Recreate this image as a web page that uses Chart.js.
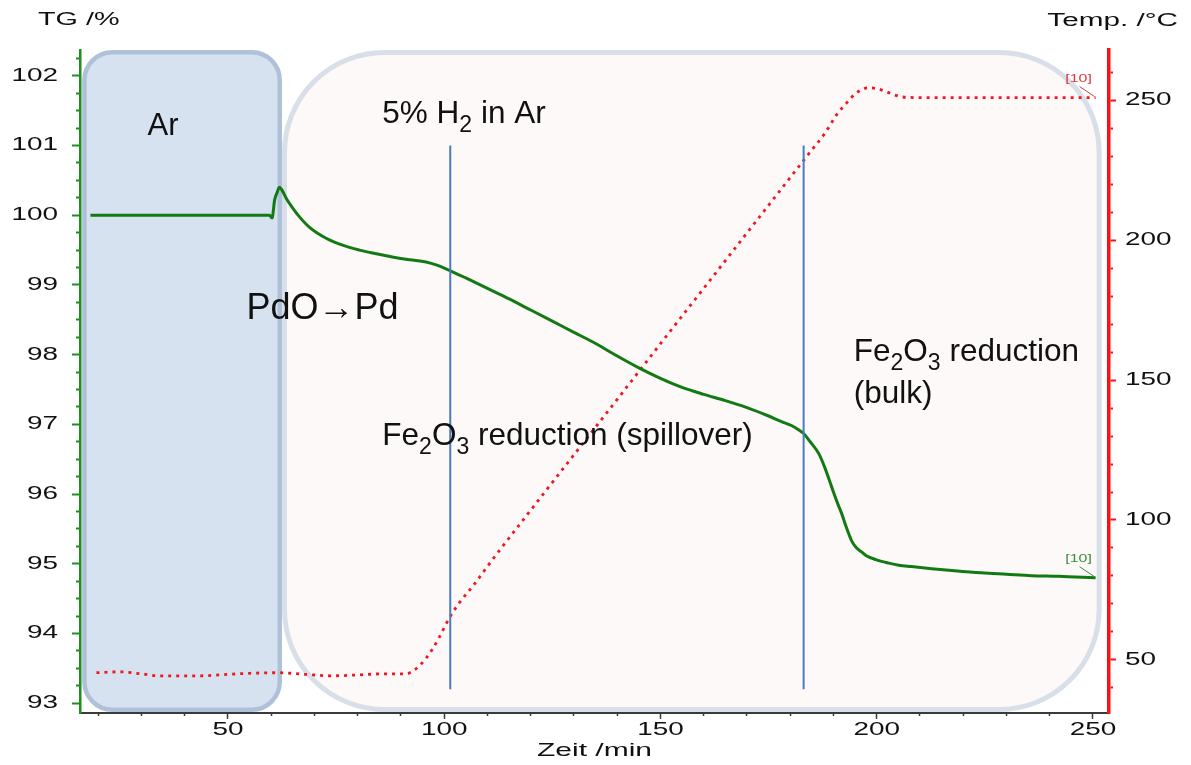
<!DOCTYPE html>
<html>
<head>
<meta charset="utf-8">
<title>TG / Temp. vs. Zeit</title>
<script src="https://cdn.jsdelivr.net/npm/chart.js@4/dist/chart.umd.min.js"></script>
<style>
  html, body { margin: 0; padding: 0; background: #ffffff; }
  #plot { display: block; }
</style>
</head>
<body>
<canvas id="plot" width="1191" height="765"></canvas>
<script>
// ---- measured series -------------------------------------------------------
// mass signal (TG, %) against time (min)
const tgTime = [18.2, 25, 35, 45, 55, 59.6, 60.2, 60.8, 61.4, 61.9, 62.5, 63.5, 64.9, 66.5, 68.8,
  72.7, 76.5, 80.4, 84, 88, 92, 95.8, 98.5, 101.2, 105, 110, 115, 120, 125, 130, 135, 140, 145,
  150, 155, 160, 165, 170, 175, 178, 180.4, 182, 183.1, 184.5, 186.6, 188, 189.6, 191, 191.9,
  193, 194.2, 195.3, 196.5, 197.5, 199.8, 202.8, 205.1, 208, 212.7, 218, 224.2, 230, 235.8,
  242, 246, 250.6];
const tgValue = [100.0, 100.0, 100.0, 100.0, 100.0, 100.0, 99.96, 100.22, 100.33, 100.40, 100.36,
  100.24, 100.11, 99.98, 99.83, 99.67, 99.57, 99.50, 99.45, 99.40, 99.36, 99.33, 99.28, 99.21,
  99.10, 98.95, 98.80, 98.64, 98.48, 98.32, 98.16, 97.98, 97.81, 97.66, 97.53, 97.43, 97.34,
  97.24, 97.12, 97.04, 96.98, 96.92, 96.87, 96.76, 96.58, 96.38, 96.10, 95.86, 95.72, 95.52,
  95.33, 95.23, 95.17, 95.12, 95.06, 95.01, 94.98, 94.96, 94.93, 94.90, 94.87, 94.85, 94.83,
  94.82, 94.81, 94.80];

// sample temperature (°C) against time (min)
const tempTime = [19.6, 25, 30, 34.2, 43.4, 50, 55, 61.9, 68, 74.1, 80, 86, 91.2, 93.1, 94.9,
  97.2, 98.8, 101.2, 103.5, 106.5, 111.1, 120, 130, 140, 150, 160, 170, 180, 185, 188, 190.8,
  193, 195, 196.5, 198, 200, 202, 204, 206, 210, 220, 230, 240, 250.6];
const tempValue = [45.4, 45.7, 45.0, 44.3, 44.3, 44.8, 45.2, 45.4, 44.8, 44.3, 44.6, 45.0, 45.0,
  46.4, 48.9, 53.6, 57.9, 65.0, 70.4, 76.1, 85.7, 103.5, 123.3, 143.1, 163.0, 182.8, 202.6,
  222.4, 232.3, 238.2, 245.0, 249.0, 252.3, 253.8, 254.5, 254.2, 253.2, 252.0, 251.2, 251.0,
  251.0, 251.0, 251.0, 251.0];

// axis ranges
const timeRange = [15.8, 253.7];
const tgRange = [92.86, 102.37];
const tempRange = [31, 268];

// gas atmosphere phases (min)
const phaseStart = [16.3, 62.5];
const phaseEnd = [62.5, 252.0];

// reaction step markers (min) and their extent on the TG axis
const stepTimes = [101.4, 183.1];
const stepSpan = [93.2, 101.0];

// text notes: [time, TG value, font size, segments]; segment = [text, isSubscript]
const notes = [
  [31.4, 101.15, 31, [['Ar', 0]]],
  [85.7, 101.33, 31.5, [['5% H', 0], ['2', 1], [' in Ar', 0]]],
  [54.3, 98.51, 36, [['PdO\u2192Pd', 0]]],
  [85.7, 96.71, 31.5, [['Fe', 0], ['2', 1], ['O', 0], ['3', 1], [' reduction (spillover)', 0]]],
  [194.7, 97.91, 31.5, [['Fe', 0], ['2', 1], ['O', 0], ['3', 1], [' reduction', 0]]],
  [194.7, 97.31, 31.5, [['(bulk)', 0]]]
];

// ---- colours and type ------------------------------------------------------
const TG_GREEN = '#137a13';
const AXIS_GREEN = '#1e901e';
const TEMP_RED = '#f01820';
const AXIS_RED = '#ff1010';
const STEP_BLUE = '#4a7bbf';
const TEXT_FONT = 'Liberation Sans';
const AXIS_STRETCH = 1.55;   // axis lettering is set horizontally widened

const isMultiple = (v, step) => Math.abs(v / step - Math.round(v / step)) < 1e-6;

// minor ticks: only the inner half of the tick mark is painted
function tickPaint(axisId, color, majorStep) {
  return (c) => {
    const v = c.tick ? c.tick.value : 0;
    if (isMultiple(v, majorStep)) return color;
    const chart = c.chart;
    const s = chart.scales[axisId];
    const g2d = chart.ctx;
    const tl = s.options.grid.tickLength;
    let g;
    if (axisId === 'x') g = g2d.createLinearGradient(0, s.top, 0, s.top + tl + 1);
    else if (axisId === 'y') g = g2d.createLinearGradient(s.right + 1, 0, s.right - tl - 1, 0);
    else g = g2d.createLinearGradient(s.left - 1, 0, s.left + tl + 1, 0);
    g.addColorStop(0, color);
    g.addColorStop(0.5, color);
    g.addColorStop(0.5, 'rgba(0,0,0,0)');
    g.addColorStop(1, 'rgba(0,0,0,0)');
    return g;
  };
}

function roundedRect(ctx, x0, y0, x1, y1, r) {
  ctx.beginPath();
  ctx.moveTo(x0 + r, y0);
  ctx.lineTo(x1 - r, y0);
  ctx.arcTo(x1, y0, x1, y0 + r, r);
  ctx.lineTo(x1, y1 - r);
  ctx.arcTo(x1, y1, x1 - r, y1, r);
  ctx.lineTo(x0 + r, y1);
  ctx.arcTo(x0, y1, x0, y1 - r, r);
  ctx.lineTo(x0, y0 + r);
  ctx.arcTo(x0, y0, x0 + r, y0, r);
  ctx.closePath();
}

// horizontally widened caption text
function wideText(ctx, text, x, y, size, align, sx, color) {
  ctx.save();
  ctx.font = `${size}px "${TEXT_FONT}"`;
  ctx.fillStyle = color;
  ctx.textAlign = align;
  ctx.textBaseline = 'alphabetic';
  ctx.translate(x, y);
  ctx.scale(sx, 1);
  ctx.fillText(text, 0, 0);
  ctx.restore();
}

const phaseStyles = [
  { fill: '#d6e2f0', stroke: '#afc1d8', radius: 28, width: 4.5 },
  { fill: '#fcf9f8', stroke: '#d8dfe8', radius: 100, width: 5 }
];

const decorations = {
  id: 'decorations',
  beforeDraw(chart) {
    const { ctx, chartArea: a, scales: { x } } = chart;
    ctx.save();
    // later phase first so the argon box sits on top of it
    for (let i = phaseStart.length - 1; i >= 0; i--) {
      const st = phaseStyles[i];
      const lw = st.width;
      const x0 = x.getPixelForValue(phaseStart[i]) + lw / 2;
      const x1 = x.getPixelForValue(phaseEnd[i]) - lw / 2;
      roundedRect(ctx, x0, a.top + lw / 2, x1, a.bottom - 1 - lw / 2, st.radius);
      ctx.fillStyle = st.fill;
      ctx.fill();
      ctx.lineWidth = lw;
      ctx.strokeStyle = st.stroke;
      ctx.stroke();
    }
    ctx.restore();
    // while the axes are drawn, their tick labels are widened like the captions
    const plain = CanvasRenderingContext2D.prototype.fillText;
    ctx.fillText = function (text, px, py, maxWidth) {
      this.save();
      this.translate(px, py);
      this.scale(AXIS_STRETCH, 1);
      plain.call(this, text, 0, 0);
      this.restore();
    };
  },
  beforeDatasetsDraw(chart) {
    delete chart.ctx.fillText;
  },
  afterDatasetsDraw(chart) {
    const { ctx, scales: { x, y, y2 } } = chart;
    ctx.save();
    ctx.fillStyle = '#111111';
    ctx.textBaseline = 'alphabetic';
    ctx.textAlign = 'left';
    for (const [t, v, size, segs] of notes) {
      let cx = x.getPixelForValue(t);
      const by = y.getPixelForValue(v);
      const sub = Math.round(size * 0.72);
      for (const [txt, isSub] of segs) {
        ctx.font = `${isSub ? sub : size}px "${TEXT_FONT}"`;
        ctx.fillText(txt, cx, isSub ? by + size * 0.3 : by);
        cx += ctx.measureText(txt).width;
      }
    }
    ctx.restore();

    // axis captions
    wideText(ctx, 'TG /%', 38, 25, 18, 'left', 1.6, '#111111');
    wideText(ctx, 'Temp. /\u00B0C', 1178, 26, 18, 'right', 1.65, '#111111');
    wideText(ctx, 'Zeit /min', (chart.chartArea.left + chart.chartArea.right) / 2, 756, 19, 'center', 1.58, '#111111');

    // curve end tags
    const tags = [
      [tgTime, tgValue, y, '#3a8f3a'],
      [tempTime, tempValue, y2, '#e2363c']
    ];
    for (const [tt, vv, sc, col] of tags) {
      const n = tt.length - 1;
      const px = x.getPixelForValue(tt[n]);
      const py = sc.getPixelForValue(vv[n]);
      wideText(ctx, '[10]', px - 17, py - 16, 11, 'center', 1.45, col);
      ctx.save();
      ctx.strokeStyle = col;
      ctx.lineWidth = 1;
      ctx.beginPath();
      ctx.moveTo(px - 16, py - 11);
      ctx.lineTo(px - 1, py - 1);
      ctx.stroke();
      ctx.restore();
    }
  }
};

const xy = (xs, ys) => xs.map((v, i) => ({ x: v, y: ys[i] }));
const stepLine = (t) => [{ x: t, y: stepSpan[0] }, { x: t, y: stepSpan[1] }];
const tickFont = { family: TEXT_FONT, size: 18 };

new Chart(document.getElementById('plot'), {
  type: 'line',
  data: {
    datasets: [
      ...stepTimes.map((t) => ({
        data: stepLine(t),
        yAxisID: 'y',
        borderColor: STEP_BLUE,
        borderWidth: 2,
        pointRadius: 0
      })),
      {
        label: 'TG',
        data: xy(tgTime, tgValue),
        yAxisID: 'y',
        borderColor: TG_GREEN,
        borderWidth: 3,
        pointRadius: 0,
        cubicInterpolationMode: 'monotone'
      },
      {
        label: 'Temp.',
        data: xy(tempTime, tempValue),
        yAxisID: 'y2',
        borderColor: TEMP_RED,
        borderWidth: 2.8,
        borderDash: [3, 5],
        pointRadius: 0,
        cubicInterpolationMode: 'monotone'
      }
    ]
  },
  options: {
    responsive: false,
    devicePixelRatio: 1,
    animation: false,
    layout: { padding: { top: 50, left: 0, right: 0, bottom: 0 } },
    plugins: { legend: { display: false }, tooltip: { enabled: false }, title: { display: false } },
    scales: {
      x: {
        type: 'linear',
        position: 'bottom',
        min: timeRange[0],
        max: timeRange[1],
        afterFit(s) { s.height = 52; },
        border: { color: '#3a3a3a', width: 2 },
        grid: { drawOnChartArea: false, drawTicks: true, tickLength: 6, tickWidth: 1.5,
                tickColor: tickPaint('x', '#3a3a3a', 50) },
        ticks: { stepSize: 10, includeBounds: false, autoSkip: false, maxRotation: 0, minRotation: 0,
                 maxTicksLimit: 1000, padding: 0, color: '#111111', font: tickFont,
                 callback: (v) => (isMultiple(v, 50) ? String(Math.round(v)) : '') }
      },
      y: {
        type: 'linear',
        position: 'left',
        min: tgRange[0],
        max: tgRange[1],
        afterFit(s) { s.width = 80; },
        border: { color: AXIS_GREEN, width: 2.5 },
        grid: { drawOnChartArea: false, drawTicks: true, tickLength: 8, tickWidth: 2,
                tickColor: tickPaint('y', AXIS_GREEN, 1) },
        ticks: { stepSize: 0.25, includeBounds: false, autoSkip: false, maxTicksLimit: 1000,
                 padding: 14, color: '#111111', font: tickFont,
                 callback: (v) => (isMultiple(v, 1) ? String(Math.round(v)) : '') }
      },
      y2: {
        type: 'linear',
        position: 'right',
        min: tempRange[0],
        max: tempRange[1],
        afterFit(s) { s.width = 82; },
        border: { color: AXIS_RED, width: 3.5 },
        grid: { drawOnChartArea: false, drawTicks: true, tickLength: 7, tickWidth: 2,
                tickColor: tickPaint('y2', AXIS_RED, 50) },
        ticks: { stepSize: 10, includeBounds: false, autoSkip: false, maxTicksLimit: 1000,
                 padding: 9, color: '#111111', font: tickFont,
                 callback: (v) => (isMultiple(v, 50) ? String(Math.round(v)) : '') }
      }
    }
  },
  plugins: [decorations]
});
</script>
</body>
</html>
